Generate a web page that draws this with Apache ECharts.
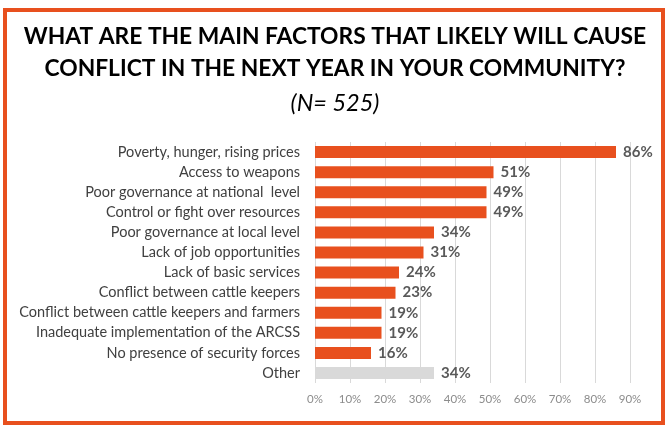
<!DOCTYPE html>
<html>
<head>
<meta charset="utf-8">
<style>
  html, body { margin: 0; padding: 0; background: #ffffff; }
  #chart { width: 669px; height: 430px; }
</style>
<script src="https://cdn.jsdelivr.net/npm/echarts@6/dist/echarts.min.js"></script>
</head>
<body>
<div id="chart"></div>
<script>
// Survey answers, top to bottom as displayed
const categories = [
  'Poverty, hunger, rising prices',
  'Access to weapons',
  'Poor governance at national  level',
  'Control or fight over resources',
  'Poor governance at local level',
  'Lack of job opportunities',
  'Lack of basic services',
  'Conflict between cattle keepers',
  'Conflict between cattle keepers and farmers',
  'Inadequate implementation of the ARCSS',
  'No presence of security forces',
  'Other'
];
const values = [86, 51, 49, 49, 34, 31, 24, 23, 19, 19, 16, 34];
const axisTicks = [0, 10, 20, 30, 40, 50, 60, 70, 80, 90];

const ORANGE = '#E8501E';
const GREY = '#D9D9D9';
const FONT = 'Lato, "Open Sans", sans-serif';

const chart = echarts.init(document.getElementById('chart'), null, { renderer: 'canvas' });

// category axis runs bottom-up, so reverse for top-down reading order
const cats = categories.slice().reverse();
const vals = values.slice().reverse().map(function (v, i) {
  const isOther = cats[i] === 'Other';
  return { value: v, itemStyle: { color: isOther ? GREY : ORANGE } };
});

function titleLine(text, y, extra) {
  return {
    type: 'text',
    silent: true,
    x: 335,
    y: y,
    style: Object.assign({
      text: text,
      align: 'center',
      verticalAlign: 'middle',
      fontFamily: FONT,
      fontWeight: 'bold',
      fontSize: 22.8,
      fill: '#000000'
    }, extra || {})
  };
}

chart.setOption({
  animation: false,
  backgroundColor: '#ffffff',
  graphic: [
    {
      type: 'rect',
      silent: true,
      shape: { x: 5, y: 10, width: 658, height: 413 },
      style: { fill: 'none', stroke: ORANGE, lineWidth: 4 }
    },
    titleLine('WHAT ARE THE MAIN FACTORS THAT LIKELY WILL CAUSE', 37),
    titleLine('CONFLICT IN THE NEXT YEAR IN YOUR COMMUNITY?', 69),
    titleLine('(N= 525)', 103, { fontWeight: 'normal', fontStyle: 'italic', fontSize: 23.5 })
  ],
  grid: { left: 315, right: 39, top: 142, bottom: 47, containLabel: false },
  xAxis: {
    type: 'value',
    min: axisTicks[0],
    max: axisTicks[axisTicks.length - 1],
    interval: 10,
    axisLine: { show: false },
    axisTick: { show: false },
    axisLabel: {
      formatter: '{value}%',
      color: '#8C8C8C',
      fontFamily: FONT,
      fontSize: 11.5,
      margin: 10
    },
    splitLine: { lineStyle: { color: '#D9D9D9', width: 1 } }
  },
  yAxis: {
    type: 'category',
    data: cats,
    axisLine: { show: false },
    axisTick: { show: false },
    axisLabel: {
      color: '#404040',
      fontFamily: FONT,
      fontSize: 14.5,
      margin: 15
    }
  },
  series: [
    {
      type: 'bar',
      data: vals,
      barWidth: 12,
      label: {
        show: true,
        position: 'right',
        distance: 7,
        formatter: '{c}%',
        color: '#595959',
        fontFamily: FONT,
        fontWeight: 'bold',
        fontSize: 15
      }
    }
  ]
});
</script>
</body>
</html>
